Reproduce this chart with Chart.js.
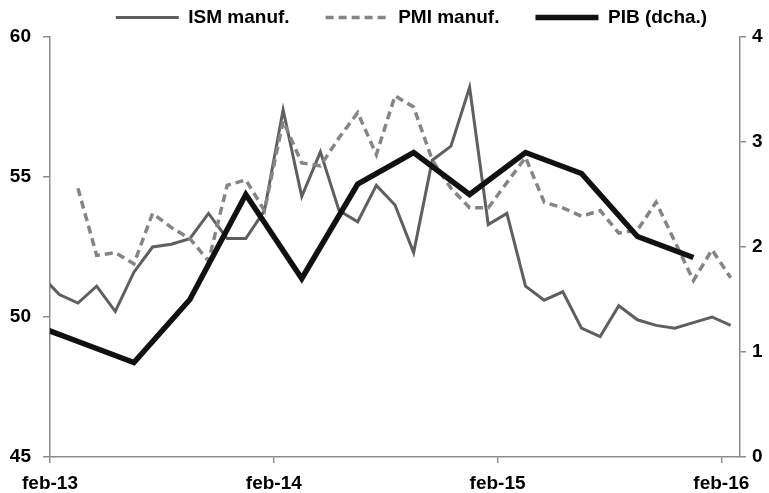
<!DOCTYPE html>
<html>
<head>
<meta charset="utf-8">
<script src="https://cdn.jsdelivr.net/npm/chart.js@4.4.1/dist/chart.umd.min.js"></script>
<style>
  html, body { margin: 0; padding: 0; background: #fff; }
  #wrap { width: 769px; height: 493px; position: relative; }
</style>
</head>
<body>
<div id="wrap"><canvas id="myChart"></canvas></div>
<script>
// monthly categories (points sit in the middle of each month)
let months = [
  'dic-12',
  'ene-13','feb-13','mar-13','abr-13','may-13','jun-13','jul-13','ago-13','sep-13','oct-13','nov-13','dic-13',
  'ene-14','feb-14','mar-14','abr-14','may-14','jun-14','jul-14','ago-14','sep-14','oct-14','nov-14','dic-14',
  'ene-15','feb-15','mar-15','abr-15','may-15','jun-15','jul-15','ago-15','sep-15','oct-15','nov-15','dic-15',
  'ene-16','feb-16'
];

let xTickLabels = ['feb-13', 'feb-14', 'feb-15', 'feb-16'];

let ism = [
  null,
  51.5, 50.8, 50.5, 51.1, 50.2, 51.6, 52.5, 52.6, 52.8, 53.7, 52.8, 52.8,
  53.8, 57.4, 54.3, 55.9, 53.8, 53.4, 54.7, 54.0, 52.3, 55.6, 56.1, 58.2,
  53.3, 53.7, 51.1, 50.6, 50.9, 49.6, 49.3, 50.4, 49.9, 49.7, 49.6, 49.8,
  50.0, 49.7
];

let pmi = [
  null,
  null, null, 54.6, 52.2, 52.3, 51.9, 53.7, 53.2, 52.8, 52.0, 54.7, 54.9,
  53.8, 57.0, 55.5, 55.4, 56.4, 57.3, 55.8, 57.9, 57.5, 55.6, 54.6, 53.9,
  53.9, 54.8, 55.7, 54.1, 53.9, 53.6, 53.8, 53.0, 53.1, 54.1, 52.7, 51.3,
  52.4, 51.4
];

let pibQuarters = ['dic-12','mar-13','jun-13','sep-13','dic-13','mar-14','jun-14','sep-14','dic-14','mar-15','jun-15','sep-15','dic-15'];
let pib = [1.3, 1.1, 0.9, 1.5, 2.5, 1.7, 2.6, 2.9, 2.5, 2.9, 2.7, 2.1, 1.9];

let labels = ['ISM manuf.', 'PMI manuf.', 'PIB (dcha.)'];

function toPoints(cats, values) {
  return cats
    .map((m, i) => ({x: months.indexOf(m) + 0.5, y: values[i]}))
    .filter(p => p.y !== null);
}

const font = {family: "'Liberation Sans', Arial, sans-serif", size: 19, weight: 'bold'};
const axisGray = '#8c8c8c';

// nudge the legend a bit right, like the original
const legendShift = {
  id: 'legendShift',
  afterLayout(chart) {
    chart.legend.left += 27;
    chart.legend.right += 27;
  }
};

let ctx = document.getElementById('myChart').getContext('2d');
let myChart = new Chart(ctx, {
  type: 'line',
  data: {
    datasets: [{
      label: labels[0],
      data: toPoints(months, ism),
      borderColor: '#5f5f5f',
      borderWidth: 3,
      yAxisID: 'y',
      order: 2
    }, {
      label: labels[1],
      data: toPoints(months, pmi),
      borderColor: '#858585',
      borderWidth: 3.5,
      borderDash: [8, 5],
      yAxisID: 'y',
      order: 1
    }, {
      label: labels[2],
      data: toPoints(pibQuarters, pib),
      borderColor: '#111111',
      borderWidth: 5.5,
      yAxisID: 'y2',
      order: 0
    }]
  },
  options: {
    animation: false,
    responsive: true,
    maintainAspectRatio: false,
    elements: {
      point: {radius: 0, hoverRadius: 0},
      line: {tension: 0, borderCapStyle: 'butt', borderJoinStyle: 'miter'}
    },
    datasets: {line: {clip: 0}},
    layout: {padding: {top: -28, left: 0, right: 0, bottom: 0}},
    plugins: {
      tooltip: {enabled: false},
      legend: {
        position: 'top',
        labels: {
          usePointStyle: true,
          pointStyle: 'line',
          pointStyleWidth: 63,
          color: '#000',
          font: font,
          padding: 36,
          sort: (a, b) => a.datasetIndex - b.datasetIndex,
          generateLabels: chart => {
            const items = Chart.defaults.plugins.legend.labels.generateLabels(chart);
            items.forEach(it => {
              const ds = chart.data.datasets[it.datasetIndex];
              it.lineDash = ds.borderDash || [];
              it.lineWidth = ds.borderWidth;
              it.strokeStyle = ds.borderColor;
            });
            return items;
          }
        }
      }
    },
    scales: {
      x: {
        type: 'linear',
        min: months.indexOf('feb-13'),
        max: months.length,
        afterBuildTicks: s => { s.ticks = xTickLabels.map(m => ({value: months.indexOf(m)})); },
        afterFit: s => { s.height = 36; },
        ticks: {
          callback: v => months[v],
          color: '#000',
          font: font,
          padding: 9,
          maxRotation: 0,
          autoSkip: false
        },
        grid: {drawOnChartArea: false, drawTicks: true, tickLength: 6, color: axisGray, lineWidth: 1.5},
        border: {display: true, color: axisGray, width: 1.5}
      },
      y: {
        position: 'left',
        min: 45,
        max: 60,
        afterFit: s => { s.width = 50; },
        ticks: {stepSize: 5, color: '#000', font: font, padding: 12},
        grid: {drawOnChartArea: false, drawTicks: true, tickLength: 7, color: axisGray, lineWidth: 1.5},
        border: {display: true, color: axisGray, width: 1.5}
      },
      y2: {
        position: 'right',
        min: 0,
        max: 4,
        afterFit: s => { s.width = 29; },
        ticks: {stepSize: 1, color: '#000', font: font, padding: 6},
        grid: {drawOnChartArea: false, drawTicks: true, tickLength: 6, color: axisGray, lineWidth: 1.5},
        border: {display: true, color: axisGray, width: 1.5}
      }
    }
  },
  plugins: [legendShift]
});
</script>
</body>
</html>
